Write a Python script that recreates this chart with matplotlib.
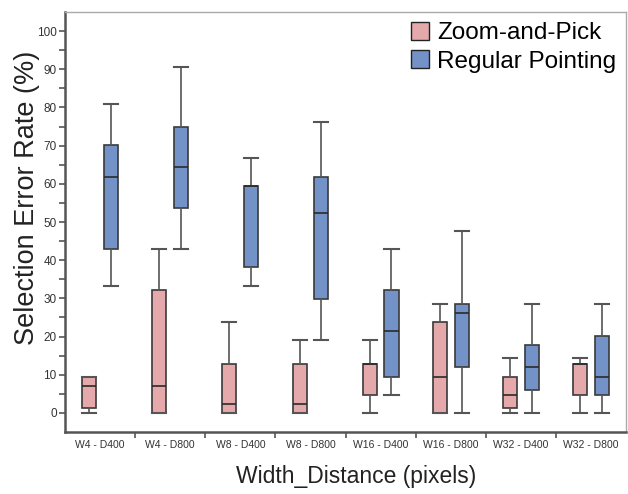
import matplotlib
matplotlib.use("Agg")
import matplotlib.pyplot as plt
from matplotlib.patches import Patch

plt.rcParams['font.family'] = ['Liberation Sans', 'DejaVu Sans']

groups = ["W4 - D400", "W4 - D800", "W8 - D400", "W8 - D800",
          "W16 - D400", "W16 - D800", "W32 - D400", "W32 - D800"]

# Zoom-and-Pick: whisker low, Q1, median, Q3, whisker high
zp_low = [0, 0, 0, 0, 0, 0, 0, 0]
zp_q1 = [1.2, 0, 0, 0, 4.8, 0, 1.2, 4.8]
zp_med = [7.1, 7.1, 2.4, 2.4, 12.9, 9.5, 4.8, 12.9]
zp_q3 = [9.5, 32.1, 12.9, 12.9, 12.9, 23.8, 9.5, 12.9]
zp_high = [9.5, 42.9, 23.8, 19.0, 19.0, 28.6, 14.3, 14.3]

# Regular Pointing
rp_low = [33.3, 42.9, 33.3, 19.0, 4.8, 0, 0, 0]
rp_q1 = [42.9, 53.6, 38.1, 29.8, 9.5, 11.9, 6.0, 4.8]
rp_med = [61.9, 64.3, 59.5, 52.4, 21.4, 26.2, 11.9, 9.5]
rp_q3 = [70.2, 75.0, 59.5, 61.9, 32.1, 28.6, 17.9, 20.2]
rp_high = [81.0, 90.5, 66.7, 76.2, 42.9, 47.6, 28.6, 28.6]

zp_color = "#E6A9AB"
rp_color = "#7393C8"
edge = "#3a3a3a"


def make_stats(low, q1, med, q3, high):
    return [dict(whislo=a, q1=b, med=c, q3=d, whishi=e, fliers=[])
            for a, b, c, d, e in zip(low, q1, med, q3, high)]


fig = plt.figure(figsize=(6.28, 4.94), dpi=100)
ax = fig.add_axes([0.1035, 0.1255, 0.8935, 0.8502])

pos = list(range(len(groups)))
off = 0.155
w = 0.2
for stats, shift, col in [(make_stats(zp_low, zp_q1, zp_med, zp_q3, zp_high), -off, zp_color),
                          (make_stats(rp_low, rp_q1, rp_med, rp_q3, rp_high), off, rp_color)]:
    ax.bxp(stats, positions=[p + shift for p in pos], widths=w, capwidths=w,
           patch_artist=True, showfliers=False,
           boxprops=dict(facecolor=col, edgecolor=edge, linewidth=1.2),
           medianprops=dict(color="#2a2a2a", linewidth=1.2),
           whiskerprops=dict(color="#555555", linewidth=1.2),
           capprops=dict(color="#555555", linewidth=1.5))

ax.set_xlim(-0.5, len(groups) - 0.5)
ax.set_ylim(-5, 105)

ax.set_yticks(range(0, 101, 10))
ax.set_yticks(range(5, 101, 10), minor=True)
ax.tick_params(axis='y', which='both', direction='out', length=4, width=1.2,
               colors="#555555", labelsize=8.5, labelcolor="#333333", pad=2)

ax.set_xticks([p + 0.5 for p in pos[:-1]])
ax.set_xticklabels([])
ax.set_xticks(pos, minor=True)
ax.set_xticklabels(groups, minor=True, fontsize=7.5, color="#333333")
ax.tick_params(axis='x', which='major', direction='out', length=4, width=1.2, colors="#555555")
ax.tick_params(axis='x', which='minor', length=0, pad=6)

for s in ['left', 'bottom']:
    ax.spines[s].set_color("#555555")
    ax.spines[s].set_linewidth(1.8)
for s in ['top', 'right']:
    ax.spines[s].set_color("#aaaaaa")
    ax.spines[s].set_linewidth(1.0)

ax.set_ylabel("Selection Error Rate (%)", fontsize=19.5, color="#222222")
ax.yaxis.set_label_coords(-0.045, 0.557)
ax.set_xlabel("Width_Distance (pixels)", fontsize=16.5, color="#222222")
ax.xaxis.set_label_coords(0.519, -0.078)

handles = [Patch(facecolor=zp_color, edgecolor="#222222", label="Zoom-and-Pick"),
           Patch(facecolor=rp_color, edgecolor="#222222", label="Regular Pointing")]
ax.legend(handles=handles, loc="upper right", frameon=False, fontsize=17.5,
          handlelength=0.75, handleheight=0.75, handletextpad=0.35,
          labelspacing=0.25, borderaxespad=0.0)

fig.savefig("out.png", dpi=100)
